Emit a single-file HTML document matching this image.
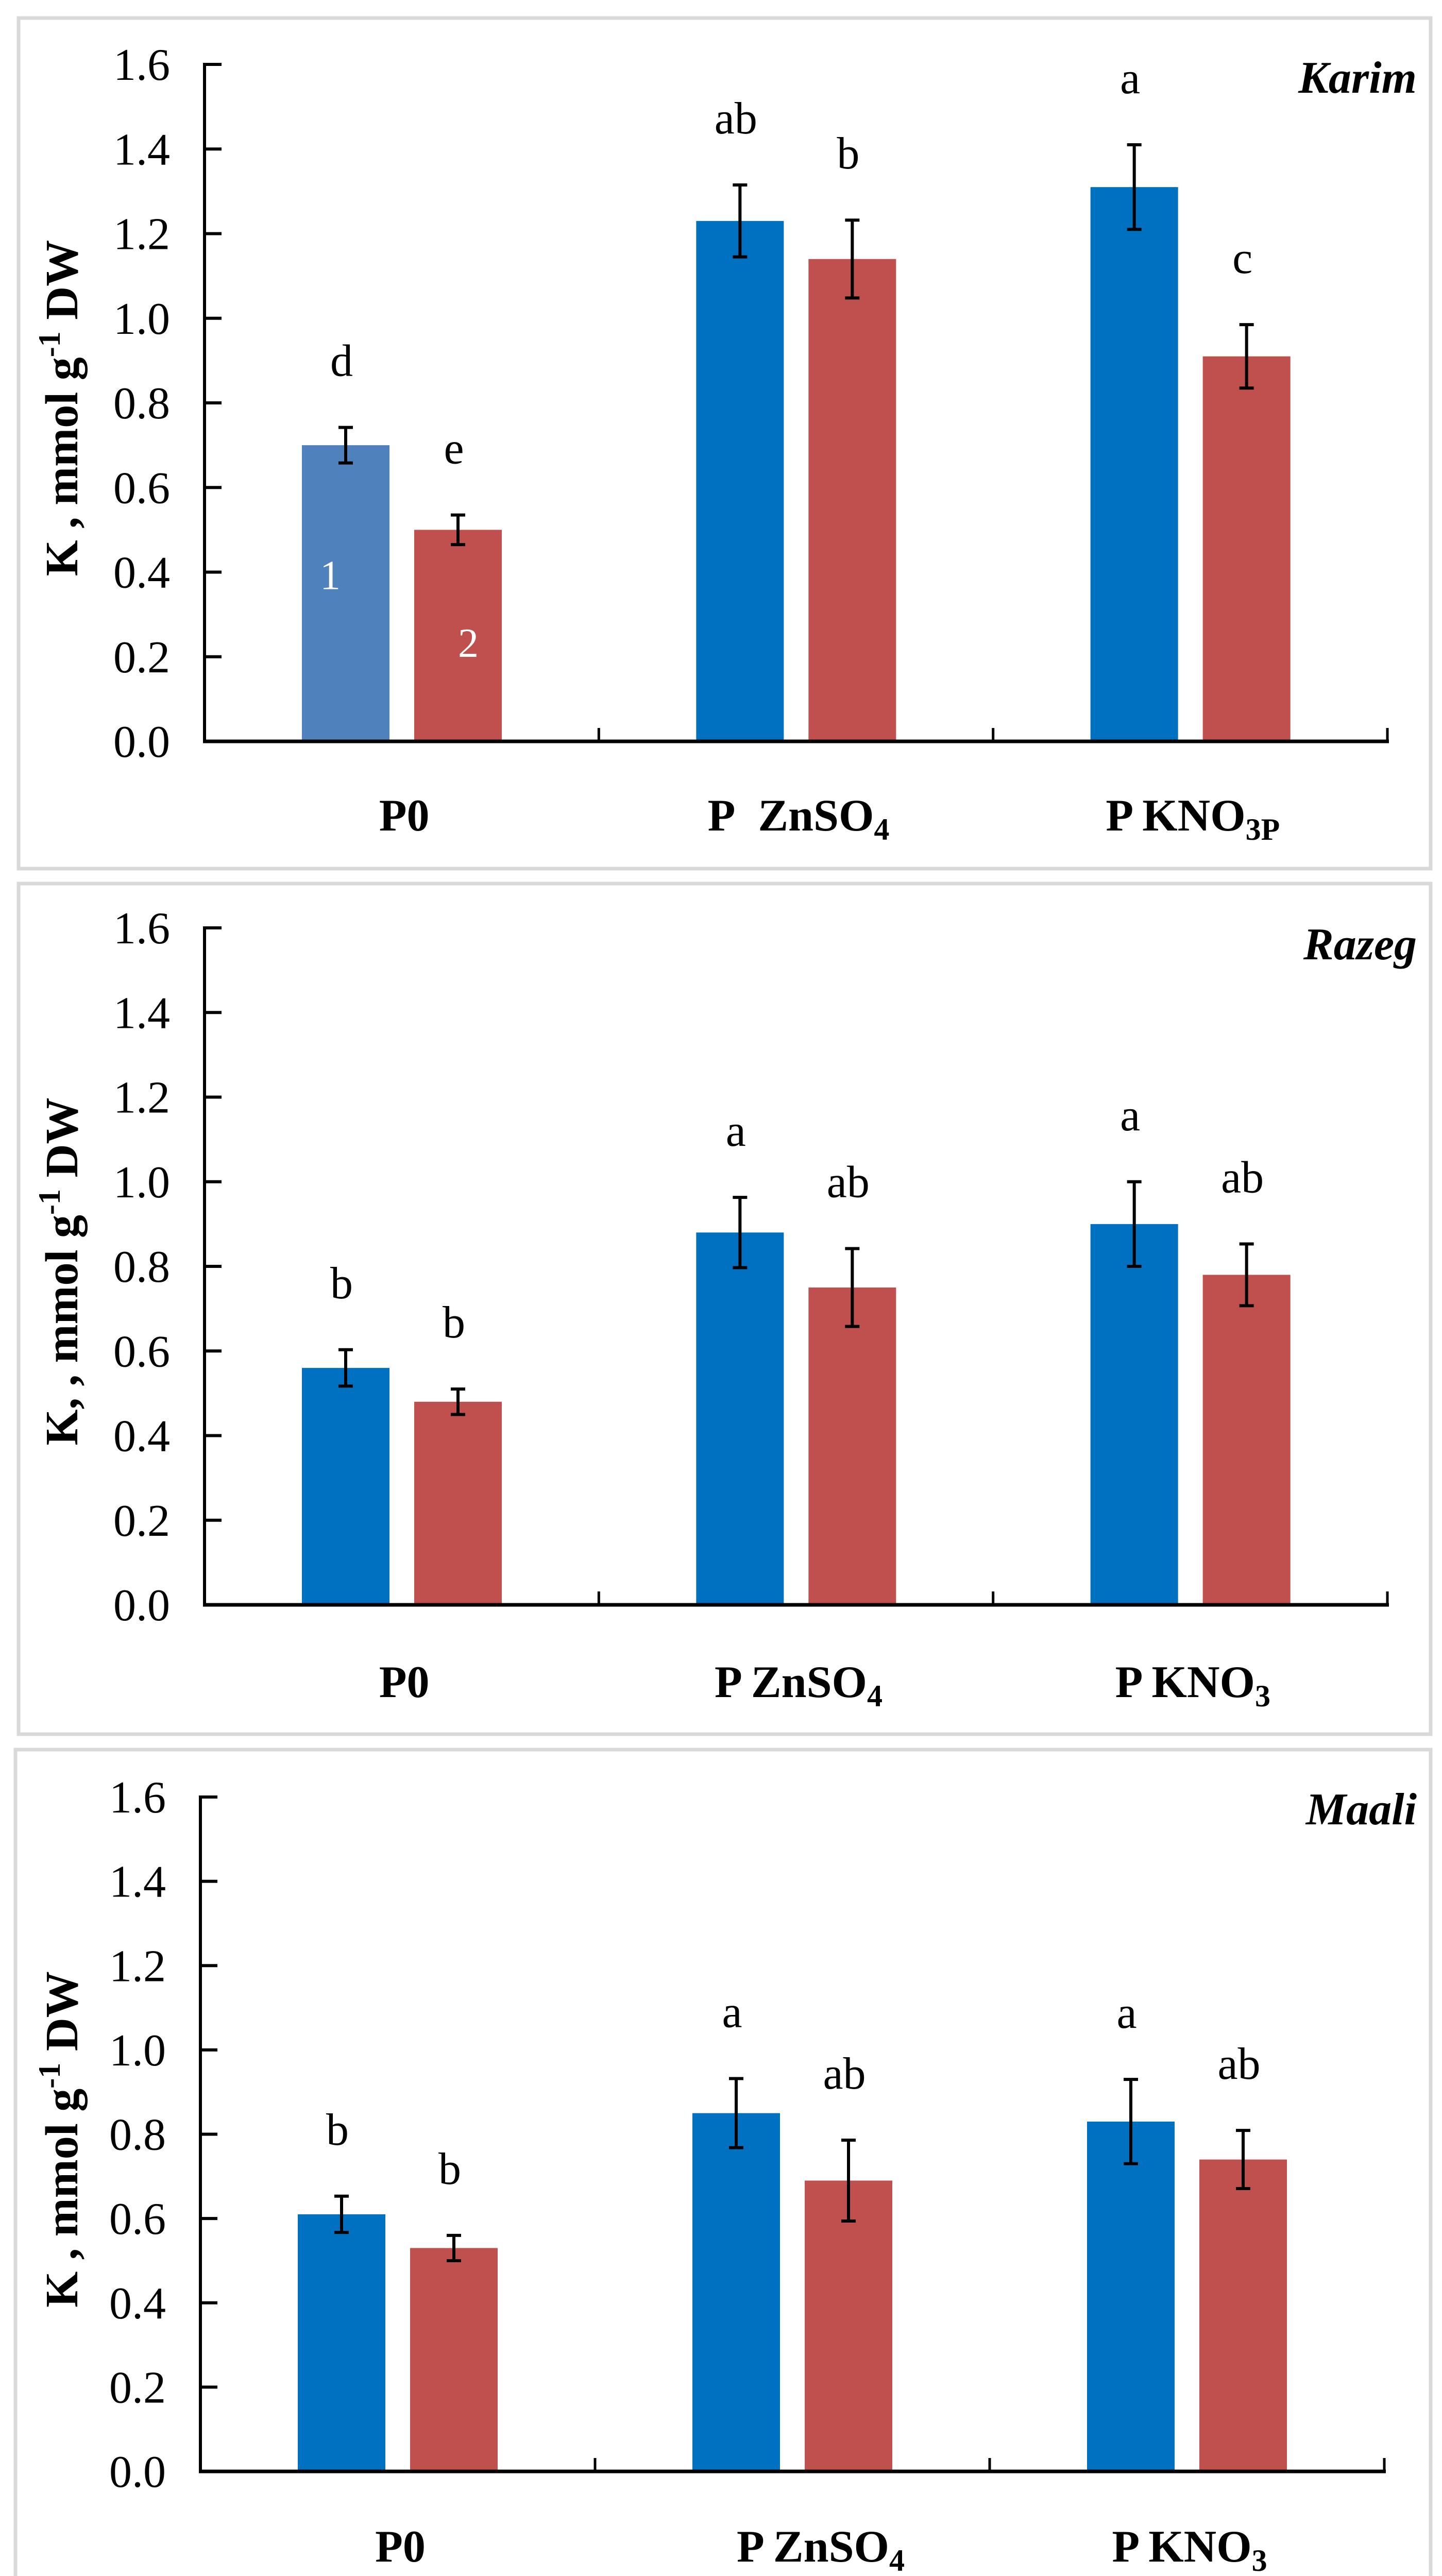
<!DOCTYPE html>
<html><head><meta charset="utf-8"><style>
html,body{margin:0;padding:0;background:#fff;width:2799px;height:5085px;overflow:hidden;}
svg{display:block;}
text{font-family:"Liberation Serif",serif;}
</style></head><body>
<svg id="chart" width="2799" height="5085" viewBox="0 0 2799 5085" xmlns="http://www.w3.org/2000/svg"></svg>
<script>
const categories = ["P0", "P ZnSO4", "P KNO3"];
const cultivars = ["Karim", "Razeg", "Maali"];
const yTicks = [0.0, 0.2, 0.4, 0.6, 0.8, 1.0, 1.2, 1.4, 1.6];
const yTickLabels = ["0.0","0.2","0.4","0.6","0.8","1.0","1.2","1.4","1.6"];
const karimSeries1 = [0.70, 1.23, 1.31];
const karimSeries1Err = [0.042, 0.085, 0.10];
const karimSeries2 = [0.50, 1.14, 0.91];
const karimSeries2Err = [0.035, 0.092, 0.075];
const karimLetters1 = ["d", "ab", "a"];
const karimLetters2 = ["e", "b", "c"];
const razegSeries1 = [0.56, 0.88, 0.90];
const razegSeries1Err = [0.043, 0.083, 0.10];
const razegSeries2 = [0.48, 0.75, 0.78];
const razegSeries2Err = [0.03, 0.092, 0.073];
const razegLetters1 = ["b", "a", "a"];
const razegLetters2 = ["b", "ab", "ab"];
const maaliSeries1 = [0.61, 0.85, 0.83];
const maaliSeries1Err = [0.043, 0.082, 0.10];
const maaliSeries2 = [0.53, 0.69, 0.74];
const maaliSeries2Err = [0.03, 0.096, 0.069];
const maaliLetters1 = ["b", "a", "a"];
const maaliLetters2 = ["b", "ab", "ab"];

const NS = "http://www.w3.org/2000/svg";
const svg = document.getElementById("chart");
function mk(tag, attrs, parent) {
  const e = document.createElementNS(NS, tag);
  for (const k in attrs) e.setAttribute(k, attrs[k]);
  (parent || svg).appendChild(e);
  return e;
}

const panels = [
  {name:"karim", s1:karimSeries1, e1:karimSeries1Err, s2:karimSeries2, e2:karimSeries2Err, l1:karimLetters1, l2:karimLetters2,
   box:[36,35,2741,1651], ax:397, axR:2693, top:125, bot:1439, titleY:180, catY:1612, p0blue:true, sub3:"3P", zn2:true},
  {name:"razeg", s1:razegSeries1, e1:razegSeries1Err, s2:razegSeries2, e2:razegSeries2Err, l1:razegLetters1, l2:razegLetters2,
   box:[36,1715,2741,1651], ax:397, axR:2693, top:1801, bot:3115, titleY:1862, catY:3294, p0blue:false, sub3:"3", zn2:false},
  {name:"maali", s1:maaliSeries1, e1:maaliSeries1Err, s2:maaliSeries2, e2:maaliSeries2Err, l1:maaliLetters1, l2:maaliLetters2,
   box:[30,3396,2747,1650], ax:389, axR:2687, top:3488, bot:4797, titleY:3541, catY:4972, p0blue:false, sub3:"3", zn2:false, znShift:50}
];

panels.forEach((p, pi) => {
  const g = mk("g", {});
  
  
  const frame = mk("rect", {x:p.box[0], y:p.box[1], width:p.box[2], height:p.box[3], fill:"#fff", stroke:"#d9d9d9", "stroke-width":7}, g);
  
  
  const y = v => p.bot - (v / 1.6) * (p.bot - p.top);
  const gw = (p.axR - p.ax) / 3;
  const gx = i => p.ax + i * gw;

  yTicks.forEach((t, i) => {
    const tk = mk("line", {x1:p.ax, x2:p.ax + 33, y1:y(t), y2:y(t), stroke:"#000", "stroke-width":6}, g);
    
    
    const lb = mk("text", {x:p.ax - 67, y:y(t) + 30, "text-anchor":"end", "font-size":88, fill:"#000"}, g);
    lb.textContent = yTickLabels[i];
    
    
  });

  const blue1 = p.p0blue ? "#4F81BD" : "#0070C0";
  for (let i = 0; i < 3; i++) {
    const b1x = gx(i) + 189, b2x = gx(i) + 407, bw = 170;
    [[p.s1, p.e1, p.l1, b1x, (i === 0 ? blue1 : "#0070C0"), 1], [p.s2, p.e2, p.l2, b2x, "#C0504D", 2]].forEach(([s, e, l, bx, col, k]) => {
      const r = mk("rect", {x:bx, y:y(s[i]), width:bw, height:p.bot - y(s[i]), fill:col}, g);
      
      
      const cx = bx + bw / 2;
      const eg = mk("g", {stroke:"#000", "stroke-width":6}, g);
      
      
      mk("line", {x1:cx, x2:cx, y1:y(s[i] + e[i]), y2:y(s[i] - e[i])}, eg);
      mk("line", {x1:cx - 14, x2:cx + 14, y1:y(s[i] + e[i]), y2:y(s[i] + e[i])}, eg);
      mk("line", {x1:cx - 14, x2:cx + 14, y1:y(s[i] - e[i]), y2:y(s[i] - e[i])}, eg);
      const lt = mk("text", {x:cx - 8, y:y(s[i] + e[i]) - 100, "text-anchor":"middle", "font-size":88, fill:"#000"}, g);
      lt.textContent = l[i];
      
      
      if (p.p0blue && i === 0) {
        const nl = mk("text", {x:cx - 30 + (k === 2 ? 50 : 0), y:(k === 1 ? y(0.36) : y(0.2)) , "text-anchor":"middle", "font-size":80, fill:"#fff"}, g);
        nl.textContent = String(k);
        
        
      }
    });
  }

  const ya = mk("line", {x1:p.ax, x2:p.ax, y1:p.top - 3, y2:p.bot + 3, stroke:"#000", "stroke-width":6}, g);
  
  
  const xa = mk("line", {x1:p.ax - 3, x2:p.axR + 3, y1:p.bot, y2:p.bot, stroke:"#000", "stroke-width":7}, g);
  
  
  for (let i = 1; i <= 3; i++) {
    const t = mk("line", {x1:gx(i), x2:gx(i), y1:p.bot, y2:p.bot - 26, stroke:"#000", "stroke-width":5}, g);
    
    
  }

  categories.forEach((c, i) => {
    let cx = gx(i) + gw / 2 + 5;
    if (i === 1 && p.znShift) cx += p.znShift;
    const t = mk("text", {x:cx, y:p.catY, "text-anchor":"middle", "font-size":88, "font-weight":"bold", fill:"#000"}, g);
    
    
    if (i === 0) t.textContent = "P0";
    else if (i === 1) {
      t.appendChild(document.createTextNode(p.zn2 ? "P\u00a0 ZnSO" : "P ZnSO"));
      const s = mk("tspan", {"font-size":60, dy:18}, t); s.textContent = "4";
    } else {
      t.appendChild(document.createTextNode("P KNO"));
      const s = mk("tspan", {"font-size":60, dy:18}, t); s.textContent = p.sub3;
    }
  });

  const ct = mk("text", {x:2750, y:p.titleY, "text-anchor":"end", "font-size":88, "font-style":"italic", "font-weight":"bold", fill:"#000"}, g);
  ct.textContent = cultivars[pi];
  
  

  const cy = (p.top + p.bot) / 2 + 10;
  const yt = mk("text", {x:0, y:0, transform:`translate(150 ${cy}) rotate(-90)`, "text-anchor":"middle", "font-size":90, "font-weight":"bold", fill:"#000"}, g);
  
  
  yt.appendChild(document.createTextNode(pi === 1 ? "K, , mmol g" : "K , mmol g"));
  const sup = mk("tspan", {"font-size":60, dy:-34}, yt); sup.textContent = "-1";
  const rest = mk("tspan", {dy:34}, yt); rest.textContent = " DW";
});
</script>
</body></html>
